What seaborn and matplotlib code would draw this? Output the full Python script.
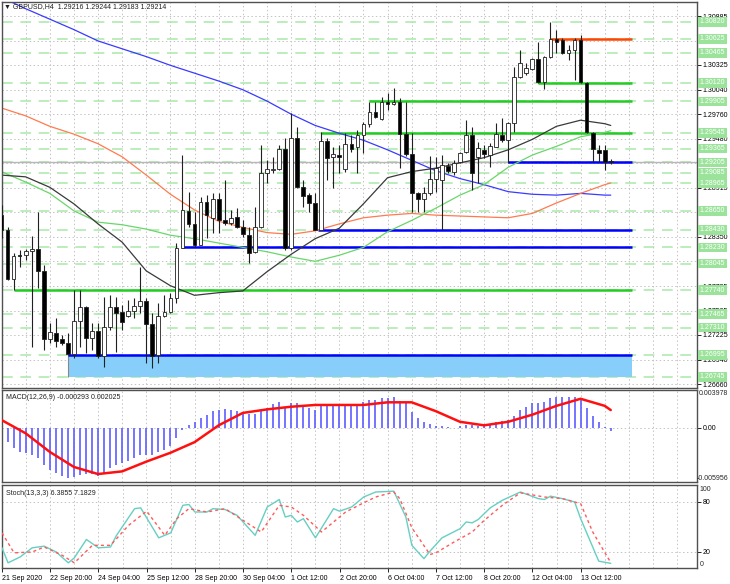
import matplotlib
matplotlib.use("Agg")
import matplotlib.pyplot as plt
from matplotlib.patches import Rectangle
import numpy as np
import seaborn as sns

sns.set_theme(style="white")
plt.rcParams['font.family'] = ['Liberation Sans', 'DejaVu Sans']
FS = 5.0

# GBPUSD H4 candles, oldest first
opens = [1.2860, 1.2843, 1.2787, 1.2814, 1.2814, 1.2819, 1.2821, 1.2796, 1.2718, 1.2725,
         1.2718, 1.2713, 1.2701, 1.2739, 1.2755, 1.2719, 1.2727, 1.2698, 1.2732, 1.2755,
         1.2749, 1.2744, 1.2750, 1.2756, 1.2761, 1.2735, 1.2700, 1.2744, 1.2749, 1.2765,
         1.2822, 1.2865, 1.2850, 1.2826, 1.2875, 1.2857, 1.2879, 1.2854, 1.2851, 1.2858,
         1.2846, 1.2837, 1.2818, 1.2846, 1.2908, 1.2912, 1.2913, 1.2936, 1.2822, 1.2949,
         1.2892, 1.2883, 1.2874, 1.2843, 1.2945, 1.2927, 1.2929, 1.2913, 1.2942, 1.2938,
         1.2952, 1.2965, 1.2978, 1.2970, 1.2990, 1.2988, 1.2990, 1.2953, 1.2930, 1.2885,
         1.2879, 1.2885, 1.2902, 1.2900, 1.2916, 1.2910, 1.2921, 1.2932, 1.2952, 1.2927,
         1.2935, 1.2929, 1.2938, 1.2952, 1.2946, 1.2966, 1.3019, 1.3023, 1.3028, 1.3039,
         1.3013, 1.3042, 1.3062, 1.3061, 1.3046, 1.3050, 1.3061, 1.3012, 1.2954, 1.2935,
         1.2935, 1.29216]
highs = [1.2872, 1.2846, 1.2817, 1.2820, 1.2821, 1.2836, 1.2864, 1.2803, 1.2736, 1.2742,
         1.2722, 1.2725, 1.2774, 1.2774, 1.2756, 1.2736, 1.2736, 1.2766, 1.2768, 1.2766,
         1.2757, 1.2763, 1.2765, 1.2800, 1.2765, 1.2748, 1.2759, 1.2768, 1.2771, 1.2828,
         1.2929, 1.2887, 1.2864, 1.2881, 1.2883, 1.2885, 1.2885, 1.2900, 1.2866, 1.2868,
         1.2854, 1.2846, 1.2869, 1.2941, 1.2923, 1.2927, 1.2941, 1.2949, 1.2977, 1.2961,
         1.2900, 1.2885, 1.2885, 1.2955, 1.2949, 1.2938, 1.2941, 1.2954, 1.2952, 1.2958,
         1.2967, 1.2990, 1.2990, 1.2996, 1.3000, 1.3006, 1.2995, 1.2990, 1.2954, 1.2887,
         1.2892, 1.2928, 1.2927, 1.2929, 1.2920, 1.2923, 1.2932, 1.2969, 1.2961, 1.2944,
         1.2941, 1.2943, 1.2966, 1.2972, 1.2967, 1.3030, 1.3050, 1.3035, 1.3040, 1.3059,
         1.3043, 1.3082, 1.3073, 1.3063, 1.3055, 1.3063, 1.3067, 1.3013, 1.2955, 1.2941,
         1.2941, 1.29244]
lows = [1.2834, 1.2786, 1.2774, 1.2800, 1.2809, 1.2709, 1.2776, 1.2705, 1.2713, 1.2709,
        1.2711, 1.2700, 1.2696, 1.2709, 1.2702, 1.2705, 1.2696, 1.2686, 1.2728, 1.2703,
        1.2728, 1.2743, 1.2742, 1.2748, 1.2690, 1.2685, 1.2690, 1.2743, 1.2748, 1.2759,
        1.2823, 1.2846, 1.2823, 1.2826, 1.2834, 1.2840, 1.2840, 1.2849, 1.2849, 1.2845,
        1.2835, 1.2805, 1.2817, 1.2845, 1.2897, 1.2908, 1.2912, 1.2820, 1.2820, 1.2891,
        1.2869, 1.2864, 1.2843, 1.2843, 1.2900, 1.2891, 1.2908, 1.2910, 1.2932, 1.2908,
        1.2931, 1.2961, 1.2972, 1.2969, 1.2981, 1.2986, 1.2914, 1.2928, 1.2864, 1.2864,
        1.2864, 1.2883, 1.2887, 1.2843, 1.2908, 1.2906, 1.2920, 1.2931, 1.2889, 1.2897,
        1.2926, 1.2915, 1.2938, 1.2944, 1.2920, 1.2955, 1.3017, 1.3021, 1.3027, 1.3012,
        1.3005, 1.3040, 1.3046, 1.3045, 1.3038, 1.3015, 1.3012, 1.2954, 1.2921, 1.2921,
        1.2912, 1.29183]
closes = [1.2843, 1.2787, 1.2813, 1.2813, 1.2819, 1.2821, 1.2796, 1.2718, 1.2726, 1.2716,
          1.2713, 1.2701, 1.2739, 1.2755, 1.2719, 1.2727, 1.2698, 1.2732, 1.2755, 1.2748,
          1.2737, 1.2750, 1.2756, 1.2761, 1.2735, 1.2698, 1.2744, 1.2749, 1.2765, 1.2822,
          1.2866, 1.2850, 1.2826, 1.2875, 1.2860, 1.2879, 1.2854, 1.2851, 1.2857, 1.2846,
          1.2838, 1.2817, 1.2846, 1.2908, 1.2913, 1.2913, 1.2936, 1.2822, 1.2949, 1.2892,
          1.2882, 1.2874, 1.2843, 1.2945, 1.2926, 1.2930, 1.2927, 1.2942, 1.2936, 1.2952,
          1.2965, 1.2978, 1.2973, 1.2990, 1.2988, 1.2990, 1.2953, 1.2930, 1.2885, 1.2879,
          1.2885, 1.2902, 1.2914, 1.2918, 1.2911, 1.2920, 1.2931, 1.2952, 1.2908, 1.2937,
          1.2930, 1.2939, 1.2953, 1.2946, 1.2966, 1.3019, 1.3035, 1.3029, 1.3039, 1.3013,
          1.3042, 1.3062, 1.3059, 1.3046, 1.3050, 1.3061, 1.3013, 1.2955, 1.2936, 1.2931,
          1.2921, 1.29214]

# moving averages, read every 4 bars
ma_idx = [0, 4, 8, 12, 16, 20, 24, 28, 32, 36, 40, 44, 48, 52, 56, 60, 64, 68, 72, 76,
          80, 84, 88, 92, 96, 100, 101]
ma_black = [1.2906, 1.2904, 1.2892, 1.2873, 1.2850, 1.2829, 1.2796, 1.2779, 1.2768, 1.2771,
            1.2773, 1.2795, 1.2815, 1.2833, 1.2845, 1.2873, 1.2903, 1.2910, 1.2914, 1.2920,
            1.2926, 1.2935, 1.2947, 1.2962, 1.2969, 1.2965, 1.2963]
ma_green = [1.2910, 1.2898, 1.2885, 1.2865, 1.2852, 1.2849, 1.2844, 1.2837, 1.2833, 1.2828,
            1.2823, 1.2818, 1.2812, 1.2807, 1.2814, 1.2823, 1.2841, 1.2854, 1.2868, 1.2883,
            1.2895, 1.2915, 1.2929, 1.2939, 1.2950, 1.2955, 1.2957]
ma_orange = [1.2983, 1.2974, 1.2962, 1.2953, 1.2942, 1.2927, 1.2906, 1.2884, 1.2866, 1.2853,
             1.2846, 1.2840, 1.2838, 1.2842, 1.2850, 1.2857, 1.2860, 1.2862, 1.2860, 1.2859,
             1.2858, 1.2857, 1.2862, 1.2874, 1.2885, 1.2895, 1.2897]
ma_blue = [1.3110, 1.3097, 1.3085, 1.3073, 1.3060, 1.3051, 1.3042, 1.3032, 1.3023, 1.3014,
           1.3004, 1.2991, 1.2976, 1.2963, 1.2954, 1.2946, 1.2935, 1.2923, 1.2911, 1.2902,
           1.2895, 1.2887, 1.2884, 1.2883, 1.2885, 1.2883, 1.2883]

# MACD(12,26,9)
macd_hist = [-0.0006, -0.0016, -0.0023, -0.0027, -0.0028, -0.0030, -0.0034, -0.0042, -0.0047, -0.0051,
             -0.0054, -0.0056, -0.0055, -0.0053, -0.0052, -0.0052, -0.0054, -0.0051, -0.0045, -0.0042,
             -0.0040, -0.0037, -0.0034, -0.0031, -0.0030, -0.0031, -0.0027, -0.0025, -0.0020, -0.0011,
             -0.0002, 0.0003, 0.0007, 0.0011, 0.0015, 0.0019, 0.0020, 0.0021, 0.0020, 0.0019,
             0.0017, 0.0016, 0.0016, 0.0019, 0.0023, 0.0027, 0.0029, 0.0023, 0.0028, 0.0028,
             0.0025, 0.0023, 0.0020, 0.0025, 0.0025, 0.0025, 0.0026, 0.0026, 0.0027, 0.0026,
             0.0029, 0.0032, 0.0032, 0.0034, 0.0034, 0.0035, 0.0030, 0.0028, 0.0018, 0.0011,
             0.0007, 0.0005, 0.0002, 0.0002, 0.0001, 0.00005, 0.0002, 0.0003, 0.0003, 0.0002,
             0.0002, 0.0003, 0.0007, 0.0008, 0.0009, 0.0014, 0.0020, 0.0024, 0.0028, 0.0028,
             0.0029, 0.0034, 0.0035, 0.0035, 0.0035, 0.0035, 0.0032, 0.0023, 0.0014, 0.0007,
             0.0001, -0.000293]
macd_signal = [0.0009, -0.0006, -0.0027, -0.0044, -0.0052, -0.0049, -0.0038, -0.0028, -0.0016, 0.0003,
               0.0017, 0.0021, 0.0024, 0.0026, 0.0026, 0.0026, 0.0029, 0.0029, 0.0019, 0.0007,
               0.0003, 0.0007, 0.0015, 0.0025, 0.0033, 0.0025, 0.002025]

# Stochastic(13,3,3)
k_idx = [0, 1, 3, 5, 7, 9, 11, 12, 14, 16, 18, 19, 22, 23, 26, 28, 30, 31, 32, 34, 35, 37, 39,
         42, 44, 46, 47, 48, 49, 50, 52, 55, 56, 58, 60, 62, 65, 67, 68, 70, 71, 73, 76, 77, 78,
         79, 81, 83, 86, 89, 90, 91, 93, 95, 96, 99, 101]
k_val = [25, 7, 14, 25, 27, 20, 7, 13, 35, 25, 26, 40, 72, 73, 37, 43, 76, 77, 68, 68, 72, 71, 64,
         40, 74, 83, 62, 64, 56, 60, 37, 72, 69, 74, 86, 92, 93, 62, 28, 12, 21, 37, 48, 56, 55,
         59, 73, 82, 92, 84, 83, 87, 84, 80, 60, 9, 6.3855]
d_idx = [0, 2, 5, 7, 10, 12, 15, 18, 21, 24, 27, 29, 31, 34, 37, 43, 46, 48, 50, 53, 57, 60, 62,
         65, 66, 68, 71, 72, 75, 78, 80, 83, 86, 90, 93, 96, 98, 101]
d_val = [43, 19, 20, 26, 16, 7, 28, 28, 52, 69, 40, 60, 72, 68, 72, 44, 76, 74, 64, 44, 68, 79, 86,
         92, 84, 49, 17, 19, 32, 44, 58, 76, 91, 86, 84, 78, 44, 7.1829]

# price scale labels (the ones not hidden behind level labels)
label_levels = [1.30885, 1.30325, 1.30040, 1.29760, 1.29480, 1.28915,
                1.28350, 1.27785, 1.27505, 1.27225, 1.26940, 1.26660]
grid_levels = [1.30885, 1.30605, 1.30325, 1.30040, 1.29760, 1.29480, 1.29200, 1.28915,
               1.28635, 1.28350, 1.28070, 1.27785, 1.27505, 1.27225, 1.26940, 1.26660]
green_levels = [1.30820, 1.30625, 1.30465, 1.30120, 1.29905, 1.29545, 1.29365, 1.29205,
                1.29085, 1.28965, 1.28650, 1.28430, 1.28230, 1.28045, 1.27740, 1.27465,
                1.27310, 1.26995, 1.26745]
seg_levels = [1.30625, 1.30120, 1.29905, 1.29545, 1.29205, 1.28430, 1.28230, 1.27740, 1.26995]
seg_start = [91, 89, 61, 53, 84, 52.5, 30, 2, 11]
seg_colors = ['#ff4500', '#22cc22', '#22cc22', '#22cc22', '#0000ff', '#0000ff', '#0000ff',
              '#22cc22', '#0000ff']
box_lo, box_hi = 1.26745, 1.26995
last_price = 1.29214

x_ticks = [0, 8, 16, 24, 32, 40, 48, 56, 64, 72, 80, 88, 96]
x_labels = ['21 Sep 2020', '22 Sep 20:00', '24 Sep 04:00', '25 Sep 12:00', '28 Sep 20:00',
            '30 Sep 04:00', '1 Oct 12:00', '2 Oct 20:00', '6 Oct 04:00', '7 Oct 12:00',
            '8 Oct 20:00', '12 Oct 04:00', '13 Oct 12:00']

W, H = 730.0, 584.0
fig = plt.figure(figsize=(7.3, 5.84), dpi=100)


def box(x0, y0, x1, y1):
    return [x0 / W, 1 - y1 / H, (x1 - x0) / W, (y1 - y0) / H]


ax = fig.add_axes(box(2, 2, 697, 388))
axm = fig.add_axes(box(2, 390, 697, 482))
axs = fig.add_axes(box(2, 485, 697, 568))

seg_end = 104.6
xmin, xmax = 0.08, 115.3
idx = np.arange(len(closes))

for a in (ax, axm, axs):
    a.set_xlim(xmin, xmax)
    a.set_facecolor('white')
    for s in a.spines.values():
        s.set_color('#505050')
        s.set_linewidth(1.0)
    a.yaxis.tick_right()
    a.tick_params(axis='y', direction='out', length=3, width=0.6, pad=1.2,
                  labelsize=FS, colors='black')
    a.tick_params(axis='x', bottom=False, labelbottom=False)
    for v in range(4, 116, 4):
        a.axvline(v, color='#c4c4c4', lw=0.7, ls=(0, (1.5, 2.5)), zorder=0.3)

# ---- main price panel
ax.set_ylim(1.26616, 1.31047)
ax.set_yticks(label_levels)
ax.set_yticklabels(['%.5f' % v for v in label_levels])
for v in grid_levels:
    ax.axhline(v, color='#c4c4c4', lw=0.7, ls=(0, (1.5, 2.5)), zorder=0.3)
for v in green_levels:
    ax.axhline(v, color='#a9e8a9', lw=1.1, ls=(0, (7, 5)), zorder=0.6)
ax.axhline(last_price, color='#b8b8b8', lw=1.0, zorder=0.7)

ax.add_patch(Rectangle((11, box_lo), seg_end - 11, box_hi - box_lo,
                       fc='#87cefa', ec='none', zorder=1))
ax.vlines(11, box_lo, box_hi, color='#888888', lw=0.8, zorder=1.1)
for lvl, st, col in zip(seg_levels, seg_start, seg_colors):
    ax.hlines(lvl, st, seg_end, color=col, lw=1.8, zorder=2)

sns.lineplot(x=ma_idx, y=ma_blue, ax=ax, color='#3a3aff', lw=0.9, zorder=2.2)
sns.lineplot(x=ma_idx, y=ma_orange, ax=ax, color='#ff7a50', lw=0.9, zorder=2.2)
sns.lineplot(x=ma_idx, y=ma_green, ax=ax, color='#6ad66a', lw=0.9, zorder=2.2)
sns.lineplot(x=ma_idx, y=ma_black, ax=ax, color='#3a3a3a', lw=0.9, zorder=2.2)

o = np.array(opens)
c = np.array(closes)
ax.vlines(idx, lows, highs, color='#202020', lw=0.8, zorder=3)
body_lo = np.minimum(o, c)
body_h = np.maximum(np.abs(c - o), 0.00004)
body_col = np.where(c >= o, 'white', 'black')
ax.bar(idx, body_h, bottom=body_lo, width=0.62, color=body_col,
       edgecolor='#202020', linewidth=0.6, zorder=3.2)
ax.set_xlabel('')
ax.set_ylabel('')

tr = ax.get_yaxis_transform()
for v in green_levels:
    ax.text(1.004, v, '%.5f' % v, transform=tr, fontsize=FS, color='white',
            va='center', ha='left', zorder=10, clip_on=False,
            bbox=dict(boxstyle='square,pad=0.2', fc='#9be39b', ec='none'))

fig.text(4 / W, 1 - 7 / H, '\u25bc GBPUSD,H4  1.29216 1.29244 1.29183 1.29214',
         fontsize=FS, color='#202020', va='center', ha='left')

# ---- MACD panel
axm.set_ylim(-0.0061, 0.00429)
axm.vlines(idx, 0, macd_hist, color='#5c5cff', lw=1.2, zorder=2)
sns.lineplot(x=ma_idx, y=macd_signal, ax=axm, color='#ff1010', lw=1.8, zorder=3)
axm.axhline(0, color='#c4c4c4', lw=0.7, ls=(0, (1.5, 2.5)), zorder=0.3)
axm.set_yticks([0])
axm.set_yticklabels(['0.00'])
trm = axm.get_yaxis_transform()
axm.text(1.002, 0.00429, '0.003978', transform=trm, fontsize=FS, va='top', ha='left')
axm.text(0.999, -0.0061, '-0.005956', transform=trm, fontsize=FS, va='bottom', ha='left')
axm.text(0.006, 0.92, 'MACD(12,26,9) -0.000293 0.002025', transform=axm.transAxes,
         fontsize=FS, color='#202020', va='center', ha='left')
axm.set_xlabel('')
axm.set_ylabel('')

# ---- Stochastic panel
axs.set_ylim(0.8, 100.4)
sns.lineplot(x=k_idx, y=k_val, ax=axs, color='#66cfc2', lw=1.0, zorder=3)
sns.lineplot(x=d_idx, y=d_val, ax=axs, color='#ff5a5a', lw=1.0, zorder=3,
             linestyle=(0, (2.2, 2.2)))
for v in (20, 80):
    axs.axhline(v, color='#c4c4c4', lw=0.7, ls=(0, (1.5, 2.5)), zorder=0.3)
axs.set_yticks([80, 20])
axs.set_yticklabels(['80', '20'])
trs = axs.get_yaxis_transform()
axs.text(1.004, 99.0, '100', transform=trs, fontsize=FS, va='top', ha='left')
axs.text(1.004, 0.8, '0', transform=trs, fontsize=FS, va='bottom', ha='left')
axs.text(0.006, 0.9, 'Stoch(13,3,3) 6.3855 7.1829', transform=axs.transAxes,
         fontsize=FS, color='#202020', va='center', ha='left')
axs.set_xticks(x_ticks)
axs.set_xticklabels(x_labels, ha='left')
axs.tick_params(axis='x', bottom=True, labelbottom=True, direction='out', length=3,
                width=0.6, pad=2, labelsize=FS, colors='black')
axs.set_xlabel('')
axs.set_ylabel('')

fig.savefig('out.png', dpi=100)
